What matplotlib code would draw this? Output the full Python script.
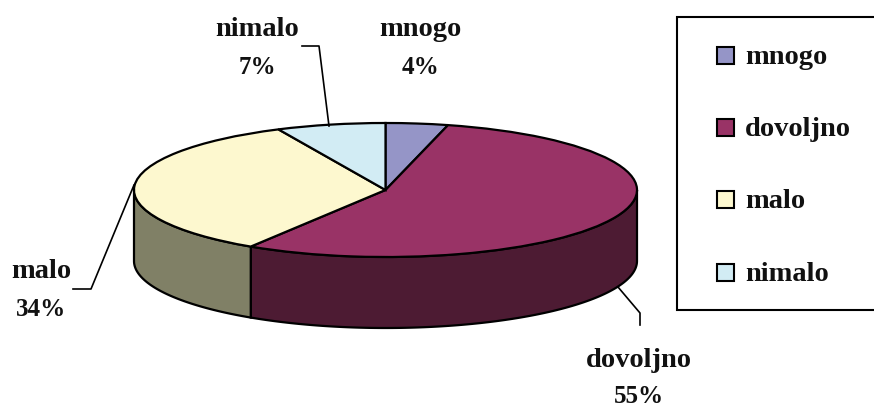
"""3D-looking pie: mnogo / dovoljno / malo / nimalo."""
import numpy as np
import matplotlib
matplotlib.use("Agg")
import matplotlib.pyplot as plt
from matplotlib.patches import Rectangle

categories = ["mnogo", "dovoljno", "malo", "nimalo"]
values = [4, 55, 34, 7]
top_colors = ["#9595C7", "#993366", "#FDF8CF", "#D2ECF4"]
side_colors = ["#4B4B64", "#4D1B33", "#808066", "#697678"]

W, H = 874, 409
CX, CY, RX, RY = 385.5, 190, 251.5, 67
DEPTH = 71 / RY  # wall height in pie units
FONT = ["Liberation Serif", "DejaVu Serif"]
INK = "#111111"

fig = plt.figure(figsize=(W / 100, H / 100), dpi=100)
fig.patch.set_facecolor("white")

# pie axes: unit circle squashed into an ellipse
ax = fig.add_axes([0, 0, 1, 1])
ax.pie(
    values,
    colors=top_colors,
    startangle=90,
    counterclock=False,
    wedgeprops={"edgecolor": "black", "linewidth": 1.6, "zorder": 3},
)
ax.set_aspect("auto")
ax.set_xlim(-CX / RX, (W - CX) / RX)
ax.set_ylim((CY - H) / RY, CY / RY)
ax.axis("off")

# side walls, only the front half (clockwise 90..270 deg from 12 o'clock)
edges = np.cumsum([0] + values) / sum(values) * 360
for i in range(len(values)):
    a0, a1 = max(edges[i], 90), min(edges[i + 1], 270)
    if a1 <= a0:
        continue
    th = np.radians(np.linspace(a0, a1, 120))
    xs, ys = np.sin(th), np.cos(th)
    ax.fill(
        np.r_[xs, xs[::-1]],
        np.r_[ys, ys[::-1] - DEPTH],
        facecolor=side_colors[i],
        edgecolor="black",
        linewidth=1.6,
        zorder=2,
    )

# overlay in pixel coords for labels, leaders and legend
ov = fig.add_axes([0, 0, 1, 1])
ov.set_xlim(0, W)
ov.set_ylim(H, 0)
ov.axis("off")
ov.patch.set_alpha(0)

label_pos = [(420, 29.5, 67.5), (639, 360.5, 396.5), (41, 271.5, 309.5), (257, 29.5, 67.5)]
for cat, val, (x, y1, y2) in zip(categories, values, label_pos):
    ov.text(x, y1, cat, ha="center", va="center", fontsize=20.5, fontweight="bold", family=FONT, color=INK)
    ov.text(x, y2, f"{val}%", ha="center", va="center", fontsize=18, fontweight="bold", family=FONT, color=INK)

# leader lines
ov.plot([302, 319, 329], [46, 46, 126], color="black", lw=1.2)
ov.plot([73, 91, 134], [289, 289, 185], color="black", lw=1.2)
ov.plot([618, 640, 640], [287, 313, 325], color="black", lw=1.2)

# legend
ov.add_patch(Rectangle((677, 17), 210, 293, facecolor="white", edgecolor="black", lw=1.5))
legend_y = [55, 127, 198.5, 271.5]
for cat, col, y in zip(categories, top_colors, legend_y):
    ov.add_patch(Rectangle((717, y - 8), 17, 17, facecolor=col, edgecolor="black", lw=1.5))
    ov.text(745, y + 3, cat, ha="left", va="center", fontsize=20.5, fontweight="bold", family=FONT, color=INK)

fig.savefig("out.png", dpi=100, facecolor="white")
